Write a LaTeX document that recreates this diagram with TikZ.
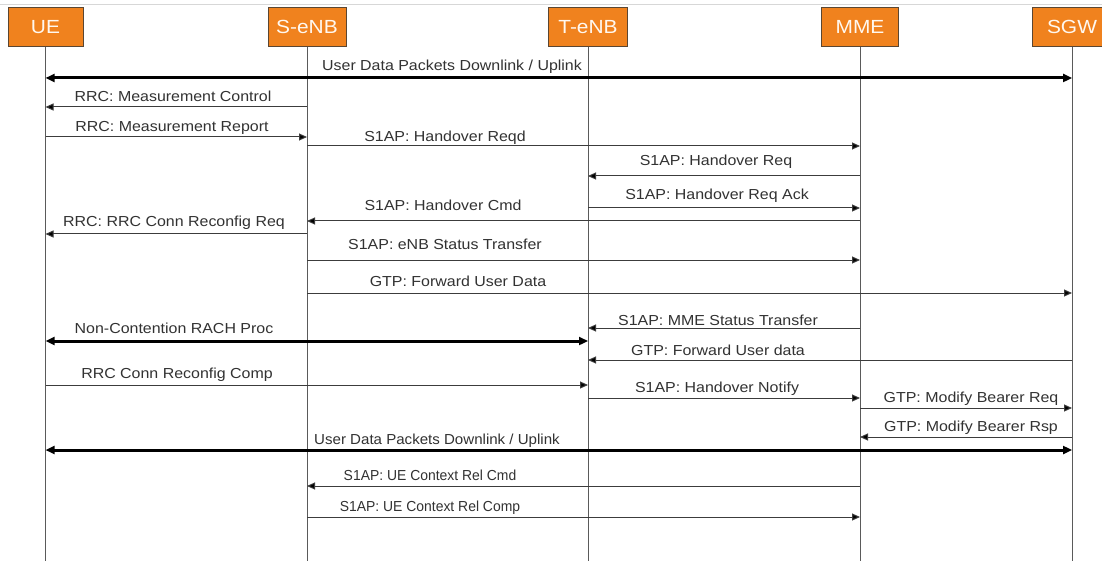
\documentclass[tikz,border=0pt]{standalone}
\usepackage{fontspec}
\setmainfont{Liberation Sans}
\newfontfamily\labfont[FakeStretch=1.1]{Liberation Sans}
\newfontfamily\midfont[FakeStretch=1.04]{Liberation Sans}
\newfontfamily\condfont[FakeStretch=0.96]{Liberation Sans}
\usetikzlibrary{arrows.meta}
\definecolor{orng}{RGB}{240,130,30}
\definecolor{boxedge}{RGB}{90,70,50}
\definecolor{lifegray}{RGB}{90,90,90}
\definecolor{msggray}{RGB}{60,60,60}
\definecolor{txtgray}{RGB}{50,50,50}
\definecolor{topgray}{RGB}{215,215,215}
\definecolor{hdrtext}{RGB}{255,248,240}
\begin{document}
\begin{tikzpicture}[x=1pt,y=-1pt,
  actor/.style={draw=boxedge, fill=orng, line width=1pt, minimum height=39pt,
    minimum width=78pt, text=hdrtext, inner sep=0pt, anchor=north,
    font=\labfont\fontsize{19}{20}\selectfont},
  life/.style={draw=lifegray, line width=1pt},
  msg/.style={draw=msggray, line width=1pt, -{Triangle[length=8pt,width=7pt,fill=black]}},
  bulk/.style={draw=black, line width=3pt,
    {Triangle[length=9pt,width=8pt]}-{Triangle[length=9pt,width=8pt]}},
  lbl/.style={font=\labfont\fontsize{14.5}{15}\selectfont, text=txtgray,
    inner sep=0pt, anchor=base},
  mlbl/.style={lbl, font=\midfont\fontsize{14.5}{15}\selectfont},
  clbl/.style={lbl, font=\condfont\fontsize{14.5}{15}\selectfont}]
\useasboundingbox (0,0) rectangle (1102,561);
\clip (0,0) rectangle (1102,561);
\fill[white] (0,0) rectangle (1102,561);
\draw[topgray, line width=1pt] (0,5) -- (1102,5);

% actors
\node[actor, minimum width=75pt] (UE) at (45.5,7) {UE};
\node[actor] (SeNB) at (307,7) {S-eNB};
\node[actor, minimum width=79pt] (TeNB) at (588,7) {T-eNB};
\node[actor, minimum width=77pt] (MME) at (860,7) {MME};
\node[actor, minimum width=80pt] (SGW) at (1072,7) {SGW};

% lifelines
\foreach \a in {UE,SeNB,TeNB,MME,SGW}
  \draw[life] (\a.south) -- (\a.south |- 0,561);

% messages
\draw[bulk] (UE |- 0,78) -- (SGW |- 0,78);
\node[lbl] (l1) at (452,71) {User Data Packets Downlink / Uplink};

\draw[msg] (SeNB |- 0,107) -- (UE |- 0,107);
\node[lbl] (l2) at (173,102) {RRC: Measurement Control};

\draw[msg] (UE |- 0,137) -- (SeNB |- 0,137);
\node[lbl] (l3) at (172,132) {RRC: Measurement Report};

\draw[msg] (SeNB |- 0,146) -- (MME |- 0,146);
\node[lbl] (l4) at (445,142) {S1AP: Handover Reqd};

\draw[msg] (MME |- 0,176) -- (TeNB |- 0,176);
\node[lbl] (l5) at (716,166) {S1AP: Handover Req};

\draw[msg] (TeNB |- 0,208) -- (MME |- 0,208);
\node[lbl] (l6) at (717,200) {S1AP: Handover Req Ack};

\draw[msg] (MME |- 0,221) -- (SeNB |- 0,221);
\node[lbl] (l7) at (443,211) {S1AP: Handover Cmd};

\draw[msg] (SeNB |- 0,234) -- (UE |- 0,234);
\node[lbl] (l8) at (174,227) {RRC: RRC Conn Reconfig Req};

\draw[msg] (SeNB |- 0,260) -- (MME |- 0,260);
\node[lbl] (l9) at (445,250) {S1AP: eNB Status Transfer};

\draw[msg] (SeNB |- 0,293) -- (SGW |- 0,293);
\node[lbl] (l10) at (458,287) {GTP: Forward User Data};

\draw[msg] (MME |- 0,328) -- (TeNB |- 0,328);
\node[lbl] (l11) at (718,325) {S1AP: MME Status Transfer};

\draw[bulk] (UE |- 0,341) -- (TeNB |- 0,341);
\node[lbl] (l12) at (174,333) {Non-Contention RACH Proc};

\draw[msg] (SGW |- 0,360) -- (TeNB |- 0,360);
\node[lbl] (l13) at (718,355) {GTP: Forward User data};

\draw[msg] (UE |- 0,385) -- (TeNB |- 0,385);
\node[lbl] (l14) at (177,378) {RRC Conn Reconfig Comp};

\draw[msg] (TeNB |- 0,398) -- (MME |- 0,398);
\node[lbl] (l15) at (717,392) {S1AP: Handover Notify};

\draw[msg] (MME |- 0,408) -- (SGW |- 0,408);
\node[lbl] (l16) at (971,402) {GTP: Modify Bearer Req};

\draw[msg] (SGW |- 0,437) -- (MME |- 0,437);
\node[lbl] (l17) at (971,431) {GTP: Modify Bearer Rsp};

\draw[bulk] (UE |- 0,450) -- (SGW |- 0,450);
\node[mlbl] (l18) at (437,444) {User Data Packets Downlink / Uplink};

\draw[msg] (MME |- 0,486) -- (SeNB |- 0,486);
\node[clbl] (l19) at (430,480) {S1AP: UE Context Rel Cmd};

\draw[msg] (SeNB |- 0,517) -- (MME |- 0,517);
\node[clbl] (l20) at (430,511) {S1AP: UE Context Rel Comp};
\end{tikzpicture}
\end{document}
